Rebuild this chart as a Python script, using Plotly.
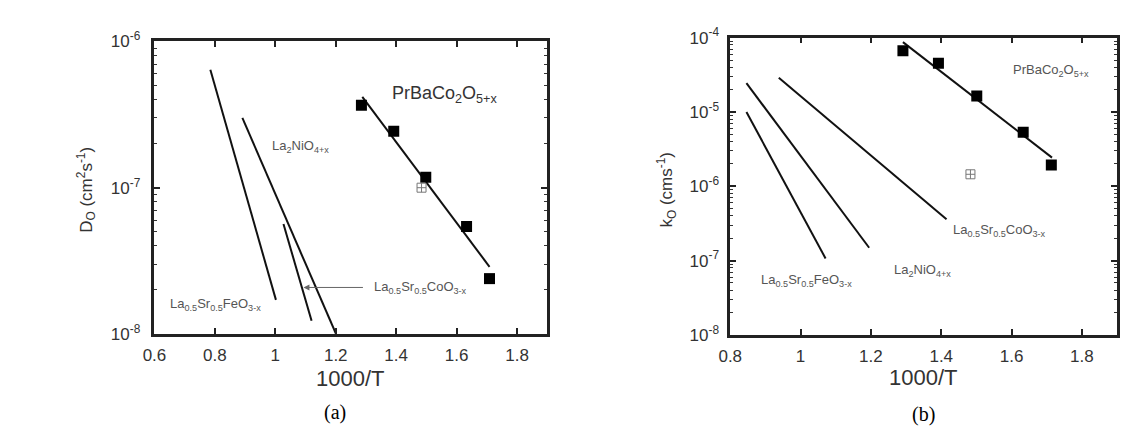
import plotly.graph_objects as go

# ---------------- data: panel (a) D_O ----------------
a_pbc_x = [1.285, 1.392, 1.498, 1.633, 1.709]
a_pbc_y = [3.66e-7, 2.43e-7, 1.18e-7, 5.44e-8, 2.39e-8]
a_open_x = [1.484]
a_open_y = [1.0e-7]
a_fit_x = [1.288, 1.709]
a_fit_y = [4.18e-7, 2.88e-8]
a_lsf_x = [0.785, 1.002]
a_lsf_y = [6.4e-7, 1.71e-8]
a_lno_x = [0.891, 1.201]
a_lno_y = [3.0e-7, 1.0e-8]
a_lsc_x = [1.027, 1.12]
a_lsc_y = [5.64e-8, 1.23e-8]

# ---------------- data: panel (b) k_O ----------------
b_pbc_x = [1.291, 1.392, 1.501, 1.633, 1.713]
b_pbc_y = [6.68e-5, 4.52e-5, 1.64e-5, 5.32e-6, 1.94e-6]
b_open_x = [1.483]
b_open_y = [1.45e-6]
b_fit_x = [1.291, 1.715]
b_fit_y = [8.7e-5, 2.43e-6]
b_lsf_x = [0.846, 1.071]
b_lsf_y = [1.0e-5, 1.07e-7]
b_lno_x = [0.846, 1.195]
b_lno_y = [2.44e-5, 1.49e-7]
b_lsc_x = [0.938, 1.415]
b_lsc_y = [2.88e-5, 3.59e-7]

# tick labels / decades
a_decades = [-8, -7, -6]
b_decades = [-8, -7, -6, -5, -4]
minor_digits = [2, 3, 4, 5, 6, 7, 8, 9]

W, H = 1125, 438
FONT = "Liberation Sans, Arial, sans-serif"
LINE = dict(color="#111", width=2)

fig = go.Figure()

def line(x, y, xa, ya):
    fig.add_trace(go.Scatter(x=x, y=y, mode="lines", line=LINE, xaxis=xa, yaxis=ya,
                             showlegend=False, hoverinfo="skip"))

def squares(x, y, xa, ya):
    fig.add_trace(go.Scatter(x=x, y=y, mode="markers", xaxis=xa, yaxis=ya,
                             marker=dict(symbol="square", size=11, color="#000"),
                             showlegend=False))

def opensq(x, y, xa, ya):
    fig.add_trace(go.Scatter(x=x, y=y, mode="markers", xaxis=xa, yaxis=ya,
                             marker=dict(symbol="square-cross-open", size=9, color="#777",
                                         line=dict(width=1, color="#777")),
                             showlegend=False))

# panel a
line(a_lsf_x, a_lsf_y, "x", "y")
line(a_lno_x, a_lno_y, "x", "y")
line(a_lsc_x, a_lsc_y, "x", "y")
line(a_fit_x, a_fit_y, "x", "y")
squares(a_pbc_x, a_pbc_y, "x", "y")
opensq(a_open_x, a_open_y, "x", "y")
# panel b
line(b_lsf_x, b_lsf_y, "x2", "y2")
line(b_lno_x, b_lno_y, "x2", "y2")
line(b_lsc_x, b_lsc_y, "x2", "y2")
line(b_fit_x, b_fit_y, "x2", "y2")
squares(b_pbc_x, b_pbc_y, "x2", "y2")
opensq(b_open_x, b_open_y, "x2", "y2")

def px(x):
    return x / W

def py(y):
    return 1 - y / H

tickfont = dict(family=FONT, size=17, color="#333")

def xaxis(domain, rng, tick0, anchor):
    return dict(domain=domain, range=rng, tick0=tick0, dtick=0.2, ticks="inside", ticklen=6,
                tickwidth=2, tickcolor="#222", showline=True, linewidth=2.5, linecolor="#222",
                mirror="allticks", showgrid=False, zeroline=False, tickfont=tickfont,
                anchor=anchor, ticklabelstandoff=4)

def yaxis(domain, decades, anchor, standoff):
    minor_vals = [m * 10.0 ** e for e in decades[:-1] for m in minor_digits]
    return dict(domain=domain, type="log", range=[decades[0], decades[-1]],
                tickmode="array", tickvals=[10.0 ** e for e in decades],
                ticktext=["10<sup>%d</sup>" % e for e in decades],
                ticks="inside", ticklen=6,
                tickwidth=2, tickcolor="#222", showline=True, linewidth=2.5, linecolor="#222",
                mirror="allticks", showgrid=False, zeroline=False, tickfont=tickfont,
                anchor=anchor, ticklabelstandoff=standoff,
                minor=dict(ticks="inside", ticklen=3, tickwidth=1, tickcolor="#333",
                           tickmode="array", tickvals=minor_vals, showgrid=False))

fig.update_layout(
    width=W, height=H, margin=dict(l=0, r=0, t=0, b=0),
    paper_bgcolor="white", plot_bgcolor="white",
    xaxis=xaxis([px(144), px(541)], [0.6, 1.9], 0.6, "y"),
    yaxis=yaxis([py(339), py(31)], a_decades, "x", 8),
    xaxis2=xaxis([px(726), px(1117)], [0.8, 1.9], 0.8, "y2"),
    yaxis2=yaxis([py(340), py(27)], b_decades, "x2", 5),
)

small = dict(family=FONT, size=13, color="#555")
ann = []

def lab(text, x, y, xa, ya, font, xanchor="left"):
    ann.append(dict(text=text, x=x, y=y, xref=xa, yref=ya, showarrow=False,
                    xanchor=xanchor, yanchor="middle", font=font))

# panel a labels (y in log10 units)
lab("PrBaCo<sub>2</sub>O<sub>5+x</sub>", 1.38, -6.36, "x", "y",
    dict(family=FONT, size=18, color="#333"))
lab("La<sub>2</sub>NiO<sub>4+x</sub>", 0.984, -6.72, "x", "y", small)
lab("La<sub>0.5</sub>Sr<sub>0.5</sub>CoO<sub>3-x</sub>", 1.321, -7.68, "x", "y", small)
lab("La<sub>0.5</sub>Sr<sub>0.5</sub>FeO<sub>3-x</sub>", 0.645, -7.80, "x", "y", small)
ann.append(dict(text="", x=1.093, y=-7.682, xref="x", yref="y", ax=1.295, ay=-7.682,
                axref="x", ayref="y", showarrow=True, arrowhead=2, arrowsize=1.2,
                arrowwidth=1, arrowcolor="#666"))
# panel b labels
lab("PrBaCo<sub>2</sub>O<sub>5+x</sub>", 1.598, -4.44, "x2", "y2", small)
lab("La<sub>0.5</sub>Sr<sub>0.5</sub>CoO<sub>3-x</sub>", 1.429, -6.6, "x2", "y2", small)
lab("La<sub>2</sub>NiO<sub>4+x</sub>", 1.261, -7.13, "x2", "y2", small)
lab("La<sub>0.5</sub>Sr<sub>0.5</sub>FeO<sub>3-x</sub>", 0.881, -7.27, "x2", "y2", small)

# axis titles
tfont = dict(family=FONT, size=17, color="#333")
ann.append(dict(text="D<sub>O</sub> (cm<sup>2</sup>s<sup>-1</sup>)", x=px(75), y=py(187),
                xref="paper", yref="paper", showarrow=False, textangle=-90,
                xanchor="center", yanchor="middle", font=tfont))
ann.append(dict(text="k<sub>O</sub> (cms<sup>-1</sup>)", x=px(662), y=py(187),
                xref="paper", yref="paper", showarrow=False, textangle=-90,
                xanchor="center", yanchor="middle", font=tfont))
xfont = dict(family=FONT, size=22, color="#333")
ann.append(dict(text="1000/T", x=px(342), y=py(386), xref="paper", yref="paper",
                showarrow=False, xanchor="center", yanchor="middle", font=xfont))
ann.append(dict(text="1000/T", x=px(921), y=py(385), xref="paper", yref="paper",
                showarrow=False, xanchor="center", yanchor="middle", font=xfont))
pfont = dict(family="Liberation Serif, Times New Roman, serif", size=20, color="#000")
ann.append(dict(text="(a)", x=px(326), y=py(422), xref="paper", yref="paper",
                showarrow=False, xanchor="center", yanchor="middle", font=pfont))
ann.append(dict(text="(b)", x=px(921), y=py(424), xref="paper", yref="paper",
                showarrow=False, xanchor="center", yanchor="middle", font=pfont))

fig.update_layout(annotations=ann)
fig.write_html("out.html")
